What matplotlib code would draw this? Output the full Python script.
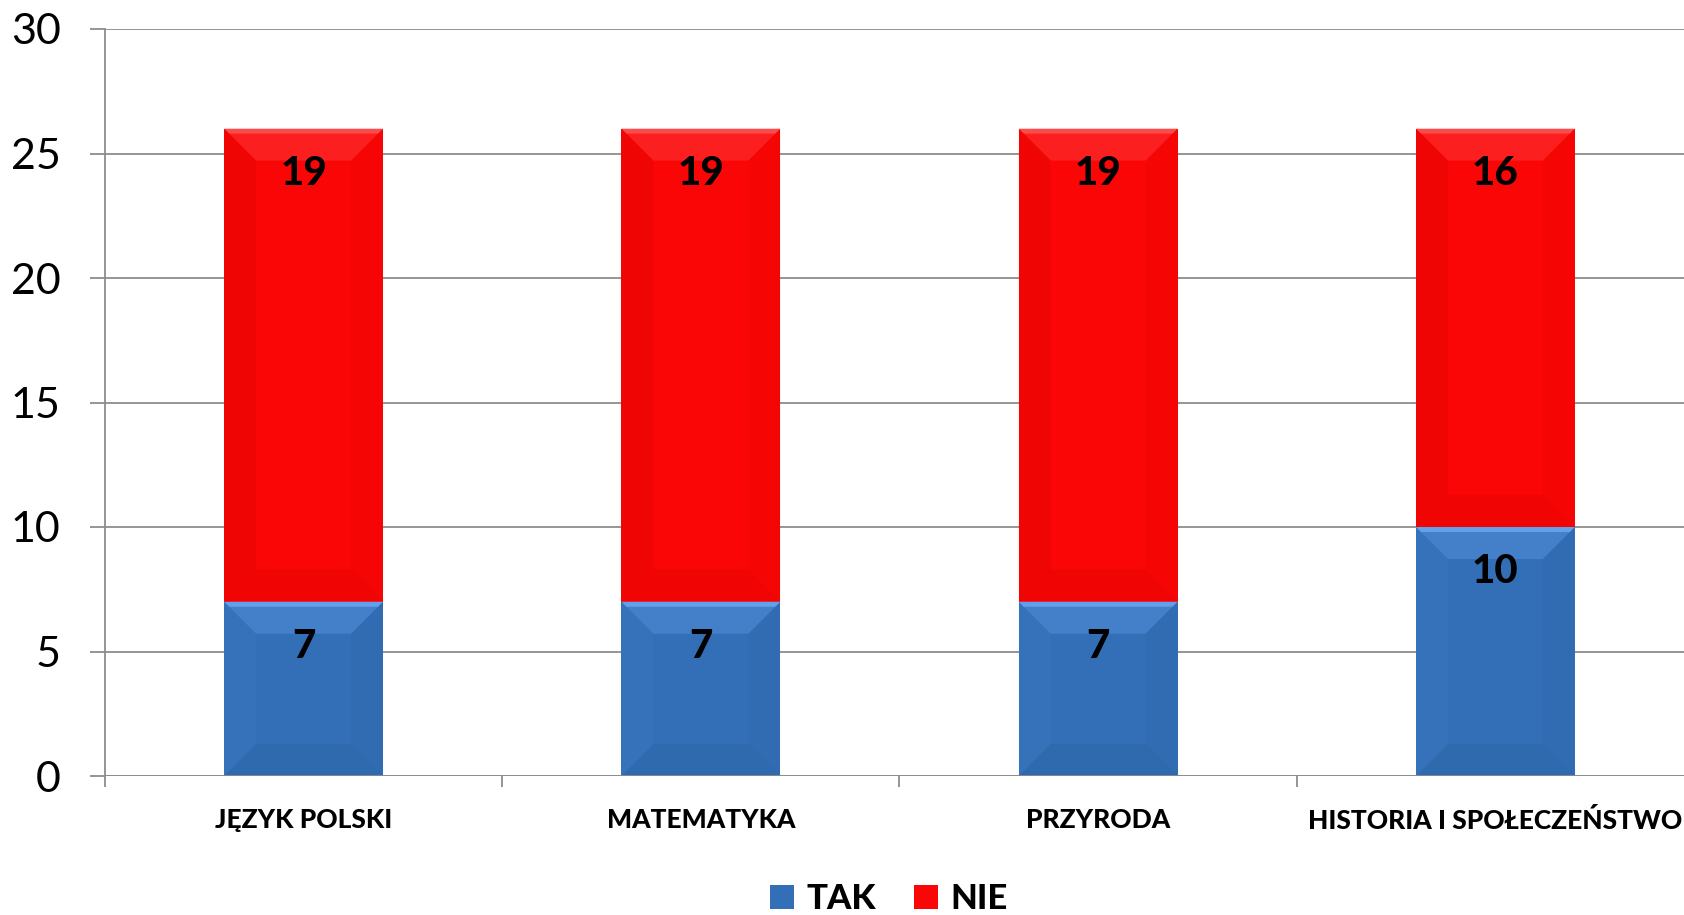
import matplotlib
matplotlib.use("Agg")
import matplotlib.pyplot as plt
import numpy as np
from matplotlib.patches import Polygon, Patch

categories = ["JĘZYK POLSKI", "MATEMATYKA", "PRZYRODA", "HISTORIA I SPOŁECZEŃSTWO"]
tak = [7, 7, 7, 10]
nie = [19, 19, 19, 16]
series_names = ["TAK", "NIE"]
yticks = [0, 5, 10, 15, 20, 25, 30]

plt.rcParams['font.family'] = ['Lato', 'DejaVu Sans']

W, H, DPI = 1684, 915, 100
fig = plt.figure(figsize=(W / DPI, H / DPI), dpi=DPI)
left_px, right_px = 105, 1694
bottom_px, top_px = 776, 29
ax = fig.add_axes([left_px / W, 1 - bottom_px / H, (right_px - left_px) / W, (bottom_px - top_px) / H])

x = np.arange(len(categories))
blue = "#336FB7"
red = "#FA0606"
b1 = ax.bar(x, tak, width=0.4, color=blue, zorder=3, linewidth=0)
b2 = ax.bar(x, nie, width=0.4, bottom=tak, color=red, zorder=3, linewidth=0)

ax.set_xlim(-0.5, len(categories) - 0.5)
ax.set_ylim(0, 30)
ax.set_yticks(yticks)
ax.grid(axis='y', color='#8c8c8c', linewidth=1.3, zorder=0)
for s in ['top', 'right', 'bottom']:
    ax.spines[s].set_visible(False)
ax.spines['left'].set_color('#8c8c8c')
ax.spines['left'].set_linewidth(1.3)
ax.axhline(0, color='#8c8c8c', linewidth=1.3, zorder=4)
ax.tick_params(axis='y', length=11, width=1.3, color='#8c8c8c', pad=21, labelsize=31)
ax.set_xticks(x)
ax.set_xticklabels(categories, fontsize=19, fontweight=900)
ax.tick_params(axis='x', which='major', length=0, pad=23)
ax.set_xticks(np.arange(len(categories) + 1) - 0.5, minor=True)
ax.tick_params(axis='x', which='minor', length=8, width=1.3, color='#8c8c8c')

# bevel shading derived from bar patches
def bevel(patch, light, dark, side_dark, bev=32):
    bb = patch.get_window_extent()
    x0, y0, x1, y1 = bb.x0, bb.y0, bb.x1, bb.y1
    b = min(bev, (y1 - y0) / 2.2)
    inv = ax.transData.inverted()
    def poly(pts, c, a):
        p = inv.transform(pts)
        ax.add_patch(Polygon(p, closed=True, facecolor=c, alpha=a, linewidth=0, zorder=3.5))
    poly([(x0, y1), (x1, y1), (x1 - 5, y1 - 5), (x0 + 5, y1 - 5)], light, 0.6)
    poly([(x0, y1), (x1, y1), (x1 - b, y1 - b), (x0 + b, y1 - b)], light, 0.25)
    poly([(x0, y0), (x1, y0), (x1 - b, y0 + b), (x0 + b, y0 + b)], dark, 0.18)
    poly([(x0, y0), (x0 + b, y0 + b), (x0 + b, y1 - b), (x0, y1)], side_dark, 0.10)
    poly([(x1, y0), (x1 - b, y0 + b), (x1 - b, y1 - b), (x1, y1)], dark, 0.08)

fig.canvas.draw()
for p in b1.patches:
    bevel(p, "#7ab4ff", "#1f4f8a", "#5a95dd")
for p in b2.patches:
    bevel(p, "#ff6a6a", "#c80000", "#a00000")

for i in range(len(categories)):
    ax.annotate(str(tak[i]), (x[i], tak[i]), xytext=(0, -32), textcoords='offset points',
                ha='center', va='center', fontsize=29, fontweight=900, zorder=5)
    ax.annotate(str(nie[i]), (x[i], tak[i] + nie[i]), xytext=(0, -32), textcoords='offset points',
                ha='center', va='center', fontsize=29, fontweight=900, zorder=5)

handles = [Patch(facecolor=blue, edgecolor='none'), Patch(facecolor=red, edgecolor='none')]
fig.legend(handles, series_names, loc='center', bbox_to_anchor=(889 / W, 1 - 899 / H),
           ncol=2, frameon=False, prop={'weight': 900, 'size': 25},
           handlelength=0.7, handleheight=0.7, handletextpad=0.35, columnspacing=1.1)

fig.savefig("out.png", dpi=DPI)
